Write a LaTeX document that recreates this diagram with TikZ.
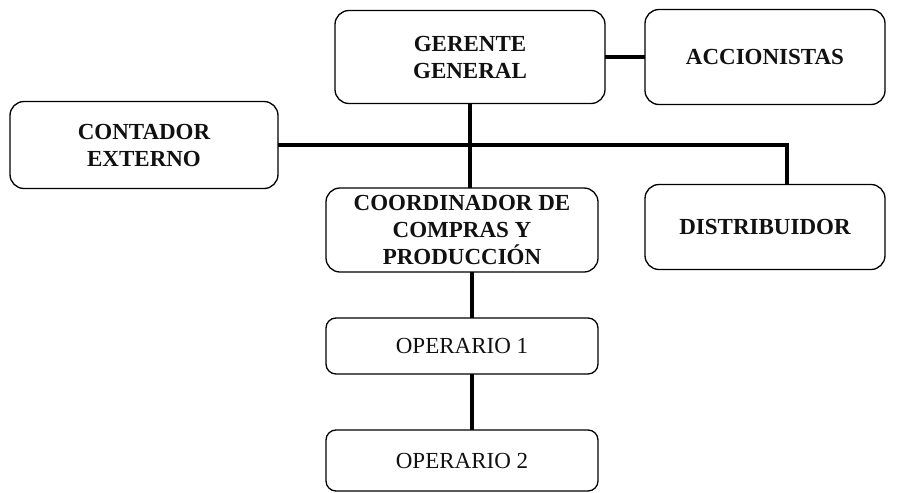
\documentclass[tikz,border=0pt]{standalone}
\usepackage{fontspec}
\setmainfont{Liberation Serif}
\usetikzlibrary{positioning,calc}
\definecolor{lineC}{HTML}{000000}
\definecolor{textC}{HTML}{111111}

\begin{document}
\begin{tikzpicture}[
  x=1pt, y=-1pt,
  every node/.style={font=\fontsize{23}{27}\selectfont, text=textC},
  unitbox/.style 2 args={
    draw=lineC, line width=1.3pt, rounded corners=14pt,
    minimum width=#1, minimum height=#2,
    inner sep=0pt, outer sep=0pt, align=center,
    font=\fontsize{23}{27}\selectfont\bfseries,
  },
  workbox/.style={
    draw=lineC, line width=1.3pt, rounded corners=10pt,
    minimum width=272pt, minimum height=56pt,
    inner sep=0pt, outer sep=0pt, align=center,
  },
  link/.style={lineC, line width=4pt},
]
\useasboundingbox (0,0) rectangle (903,493);

% ── Top level ──
\node[unitbox={270pt}{93pt}] (gerente) at (470,57) {GERENTE\\GENERAL};
\node[unitbox={240pt}{95pt}] (accion) at (765,57) {ACCIONISTAS};

% ── Staff and external ──
\node[unitbox={268pt}{87pt}] (contador) at (144,145) {CONTADOR\\EXTERNO};
\node[unitbox={240pt}{85pt}] (distrib) at (765,227) {DISTRIBUIDOR};

% ── Line of production ──
\node[unitbox={272pt}{84pt}] (coord) at (462,230) {COORDINADOR DE\\COMPRAS Y\\PRODUCCIÓN};
\node[workbox, below=46pt of coord] (op1) {OPERARIO 1};
\node[workbox, minimum height=61pt, below=56pt of op1] (op2) {OPERARIO 2};

% ── Connectors ──
\draw[link] (gerente.east) -- (accion.west);
\draw[link] (gerente.south) -- (gerente.south |- coord.north);
\draw[link] (contador.east) -| ([xshift=22pt]distrib.north);
\draw[link] ([xshift=10pt]coord.south) -- ([xshift=10pt]op1.north);
\draw[link] ([xshift=10pt]op1.south) -- ([xshift=10pt]op2.north);

\end{tikzpicture}
\end{document}
